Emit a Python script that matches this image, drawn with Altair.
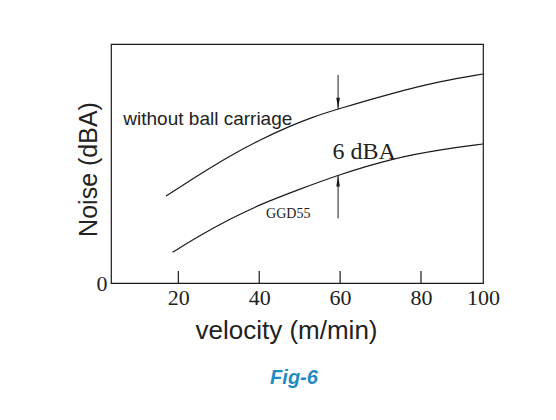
import altair as alt
import pandas as pd

# Curves (velocity m/min, relative noise dBA above the axis zero)
upper_v = [16.95, 23.5, 31.8, 40.0, 48.25, 53.2, 59.4, 72.7, 87.0, 100.0]
upper_n = [8.15, 9.76, 11.72, 13.40, 14.81, 15.55, 16.30, 17.78, 18.96, 19.59]
lower_v = [18.58, 24.76, 33.02, 41.26, 49.5, 59.4, 72.98, 86.97, 100.0]
lower_n = [2.88, 4.34, 6.06, 7.53, 8.72, 10.12, 11.69, 12.53, 13.03]

x_ticks = [20, 40, 60, 80, 100]
y_ticks = [0]

# 6 dBA arrows
arrow_v = 59.5
arrow_down = [19.5, 16.3]   # from, to (tip)
arrow_up = [6.06, 10.12]

labels_text = ["without ball carriage", "6 dBA", "GGD55"]
labels_v = [6.4, 58.1, 41.7]
labels_n = [14.85, 11.6, 6.12]

W, H = 372, 239
SERIF = "Liberation Serif"
SANS = "Liberation Sans"
INK = "#1a1a1a"

xs = alt.Scale(domain=[3.35, 80, 100], range=[0, 310, W])
ys = alt.Scale(domain=[0, 22.4])

curves = pd.DataFrame(
    {"v": upper_v + lower_v, "n": upper_n + lower_n,
     "s": ["without ball carriage"] * len(upper_v) + ["GGD55"] * len(lower_v)}
)

base_x = alt.X("v:Q", scale=xs,
               axis=alt.Axis(values=x_ticks, title="velocity (m/min)", tickSize=0,
                             domain=False, grid=False, labelFont=SERIF, labelFontSize=22,
                             labelColor="#222", labelPadding=4, labelFlush=False,
                             titleFont=SANS, titleFontSize=26, titleFontWeight="normal",
                             titleColor="#222", titleX=175, titleY=47,
                             titleBaseline="middle"))
base_y = alt.Y("n:Q", scale=ys,
               axis=alt.Axis(values=y_ticks, title="Noise (dBA)", tickSize=0, domain=False,
                             grid=False, labelFont=SERIF, labelFontSize=22, labelColor="#222",
                             labelPadding=4, labelBaseline="middle",
                             titleFont=SANS, titleFontSize=25, titleFontWeight="normal",
                             titleColor="#222", titleX=-23, titleY=125,
                             titleBaseline="middle"))

lines = alt.Chart(curves).mark_line(color=INK, strokeWidth=1.2,
                                    interpolate="basis").encode(
    x=base_x, y=base_y, detail="s:N")

ticks_df = pd.DataFrame({"v": x_ticks[:-1]})
ticks = alt.Chart(ticks_df).mark_rule(color=INK, strokeWidth=1.2).encode(
    x=alt.X("v:Q", scale=xs), y=alt.value(H), y2=alt.value(H - 12))

arrows_df = pd.DataFrame({"v": [arrow_v, arrow_v],
                          "a": [arrow_down[0], arrow_up[0]],
                          "b": [arrow_down[1], arrow_up[1]]})
shafts = alt.Chart(arrows_df).mark_rule(color=INK, strokeWidth=1).encode(
    x=alt.X("v:Q", scale=xs), y=alt.Y("a:Q", scale=ys), y2="b:Q")

heads_df = pd.DataFrame({"v": [arrow_v, arrow_v],
                         "n": [arrow_down[1] + 0.55, arrow_up[1] - 0.55],
                         "shape": ["M -0.33 -1 L 0.33 -1 L 0 1 Z",
                                   "M -0.33 1 L 0.33 1 L 0 -1 Z"]})
heads = alt.Chart(heads_df).mark_point(filled=True, color=INK, size=121,
                                       opacity=1).encode(
    x=alt.X("v:Q", scale=xs), y=alt.Y("n:Q", scale=ys),
    shape=alt.Shape("shape:N", scale=None))

lab_df = pd.DataFrame({"t": labels_text, "v": labels_v, "n": labels_n})
lab1 = alt.Chart(lab_df.iloc[[0]]).mark_text(font=SANS, fontSize=19, align="left",
                                             baseline="alphabetic", color="#222").encode(
    x=alt.X("v:Q", scale=xs), y=alt.Y("n:Q", scale=ys), text="t:N")
lab2 = alt.Chart(lab_df.iloc[[1]]).mark_text(font=SERIF, fontSize=24, align="left",
                                             baseline="alphabetic", color="#222").encode(
    x=alt.X("v:Q", scale=xs), y=alt.Y("n:Q", scale=ys), text="t:N")
lab3 = alt.Chart(lab_df.iloc[[2]]).mark_text(font=SERIF, fontSize=14, align="left",
                                             baseline="alphabetic", color="#222").encode(
    x=alt.X("v:Q", scale=xs), y=alt.Y("n:Q", scale=ys), text="t:N")

chart = alt.layer(lines, ticks, shafts, heads, lab1, lab2, lab3).properties(
    width=W, height=H,
    autosize=alt.AutoSizeParams(type="none"),
    padding={"left": 103, "top": 36, "right": 60, "bottom": 120},
    title=alt.TitleParams("Fig-6", orient="bottom", anchor="middle", font=SANS,
                          fontSize=20, fontWeight="bold", fontStyle="italic",
                          color="#1e8bc3", offset=25, dx=-3),
).configure(background="white",
            view=alt.ViewConfig(stroke=INK, strokeWidth=1.2))

chart.save("out.html", embed_options={"renderer": "svg", "actions": False})
